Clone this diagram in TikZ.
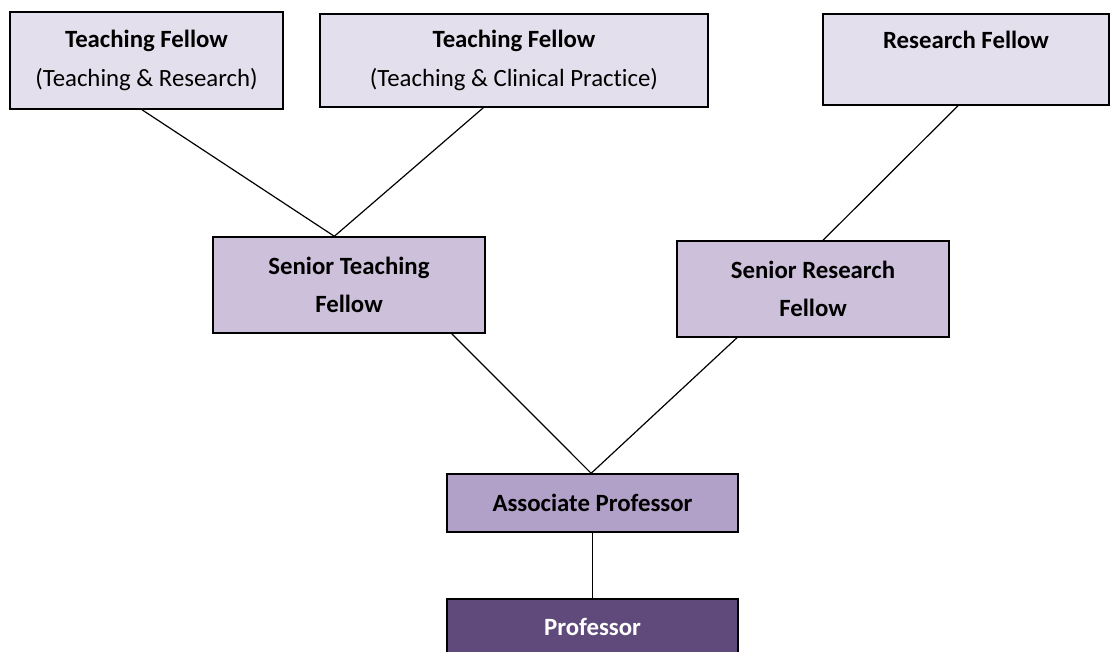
\documentclass[tikz,border=0pt]{standalone}
\usepackage{fontspec}
\setmainfont{Carlito}[Ligatures=NoCommon]
\usetikzlibrary{positioning}

\definecolor{lav}{HTML}{E4DFEC}
\definecolor{lavmid}{HTML}{CCC0DA}
\definecolor{lavdark}{HTML}{B1A0C7}
\definecolor{plum}{HTML}{604A7B}

\begin{document}
\begin{tikzpicture}[x=0.75pt,y=-0.75pt,
	box/.style={draw=black,line width=1.1pt,align=center,inner sep=0pt,
		font=\fontsize{18.6}{29}\selectfont},
	link/.style={line width=0.9pt}]

\useasboundingbox (0,0) rectangle (1119,651);

% top row
\node[box,fill=lav,minimum width=204.75pt,minimum height=72.75pt] (tfr) at (146.5,60.5)
	{\textbf{Teaching Fellow}\\(Teaching \& Research)};
\node[box,fill=lav,minimum width=291pt,minimum height=69.75pt] (tfc) at (514,60.5)
	{\textbf{Teaching Fellow}\\(Teaching \& Clinical Practice)};
\node[box,fill=lav,minimum width=214.5pt,minimum height=68.25pt] (rf) at (966,59.5)
	{\textbf{Research Fellow}\\\mbox{}};

% senior row
\node[box,fill=lavmid,minimum width=204pt,minimum height=72pt] (stf) at (349,285)
	{\textbf{Senior Teaching}\\\textbf{Fellow}};
\node[box,fill=lavmid,minimum width=204pt,minimum height=72pt] (srf) at (813,289)
	{\textbf{Senior Research}\\\textbf{Fellow}};

% professors
\node[box,fill=lavdark,minimum width=218.25pt,minimum height=43.5pt] (ap) at (592.5,503)
	{\textbf{Associate Professor}};
\node[box,fill=plum,text=white,minimum width=218.25pt,minimum height=42pt] (prof) at (592.5,627)
	{\textbf{Professor}};

\draw[link] ([xshift=-3.4pt]tfr.south)--([xshift=-11pt]stf.north);
\draw[link] ([xshift=-23pt]tfc.south)--([xshift=-11pt]stf.north);
\draw[link] ([xshift=-6pt]rf.south)--([xshift=7.5pt]srf.north);
\draw[link] ([xshift=77pt]stf.south)--([xshift=-1pt]ap.north);
\draw[link] ([xshift=-57pt]srf.south)--([xshift=-1pt]ap.north);
\draw[link] (ap.south)--(prof.north);

\end{tikzpicture}
\end{document}
